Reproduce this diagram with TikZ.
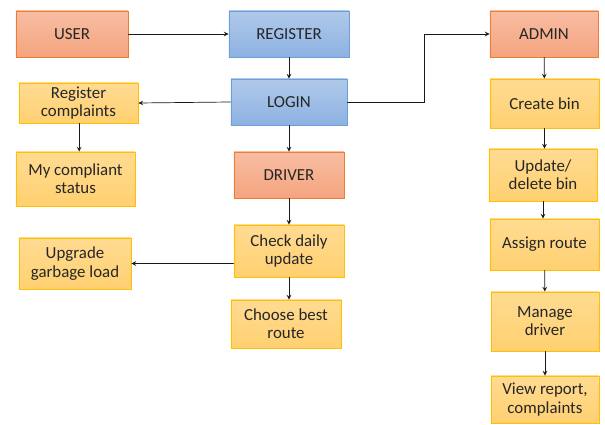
\documentclass[tikz,border=0pt]{standalone}
\usepackage{fontspec}
\setmainfont{Carlito}
\definecolor{orline}{HTML}{ED7D31}
\definecolor{ortop}{HTML}{F8BDA3}
\definecolor{orbot}{HTML}{F4A47E}
\definecolor{blline}{HTML}{6A9FD8}
\definecolor{bltop}{HTML}{B0C9EA}
\definecolor{blbot}{HTML}{8DB2E2}
\definecolor{yeline}{HTML}{FFC000}
\definecolor{yetop}{HTML}{FFDB92}
\definecolor{yebot}{HTML}{FFD070}

\begin{document}
\begin{tikzpicture}[x=0.025cm,y=-0.025cm,>=stealth,line cap=round]
	\tikzstyle{box}=[draw,rectangle,align=center,inner sep=2pt,font=\fontsize{12}{13}\selectfont,text=black!85,line width=0.6pt];
	\tikzstyle{role}=[box,draw=orline,top color=ortop,bottom color=orbot];
	\tikzstyle{entry}=[box,draw=blline,top color=bltop,bottom color=blbot];
	\tikzstyle{task}=[box,draw=yeline,top color=yetop,bottom color=yebot];
	\tikzstyle{link}=[->,line width=0.5pt,black!90];
	\useasboundingbox (0,0) rectangle (605,425);
	% user side
	\node[role,minimum width=2.8cm,minimum height=1.15cm] (user) at (72,34) {USER};
	\node[entry,minimum width=3cm,minimum height=1.15cm] (register) at (289,34) {REGISTER};
	\node[entry,minimum width=2.9cm,minimum height=1.15cm] (login) at (289,102) {LOGIN};
	\node[task,minimum width=2.975cm,minimum height=1cm] (regcomp) at (78.5,103) {Register\\complaints};
	\node[task,minimum width=2.975cm,minimum height=1.35cm] (status) at (75.5,179) {My compliant\\status};
	% driver
	\node[role,minimum width=2.75cm,minimum height=1.15cm] (driver) at (289,175) {DRIVER};
	\node[task,minimum width=2.75cm,minimum height=1.3cm] (check) at (289,251) {Check daily\\update};
	\node[task,minimum width=2.8cm,minimum height=1.275cm] (upgrade) at (75,263.5) {Upgrade\\garbage load};
	\node[task,minimum width=2.75cm,minimum height=1.2cm] (choose) at (286,324) {Choose best\\route};
	% admin
	\node[role,minimum width=2.7cm,minimum height=1.15cm] (admin) at (544,34) {ADMIN};
	\node[task,minimum width=2.725cm,minimum height=1.225cm] (create) at (544.5,103.5) {Create bin};
	\node[task,minimum width=2.7cm,minimum height=1.3cm] (update) at (543,175) {Update/\\delete bin};
	\node[task,minimum width=2.725cm,minimum height=1.275cm] (assign) at (544.5,244.5) {Assign route};
	\node[task,minimum width=2.7cm,minimum height=1.475cm] (manage) at (545,321.5) {Manage\\driver};
	\node[task,minimum width=2.7cm,minimum height=1.175cm] (view) at (545,399.5) {View report,\\complaints};
	\coordinate (bend) at (424,102);
	% connectors
	\draw[link] (user) -- (register);
	\draw[link] (register) -- (login);
	\draw[link] (login.west) -- (regcomp.east);
	\draw[link] ([xshift=0.5pt]regcomp.south) -- ([xshift=0.5pt]regcomp.south |- status.north);
	\draw[link] (login) -- (driver);
	\draw[link] (driver) -- (check);
	\draw[link] (check.west |- upgrade.east) -- (upgrade.east);
	\draw[link] (check.south) -- (check.south |- choose.north);
	\draw[link] (login.east) -- (bend) |- (admin.west);
	\draw[link] (admin) -- (create);
	\draw[link] (create.south) -- (create.south |- update.north);
	\draw[link] (update.south) -- (update.south |- assign.north);
	\draw[link] (assign) -- (manage);
	\draw[link] (manage) -- (view);
\end{tikzpicture}
\end{document}
